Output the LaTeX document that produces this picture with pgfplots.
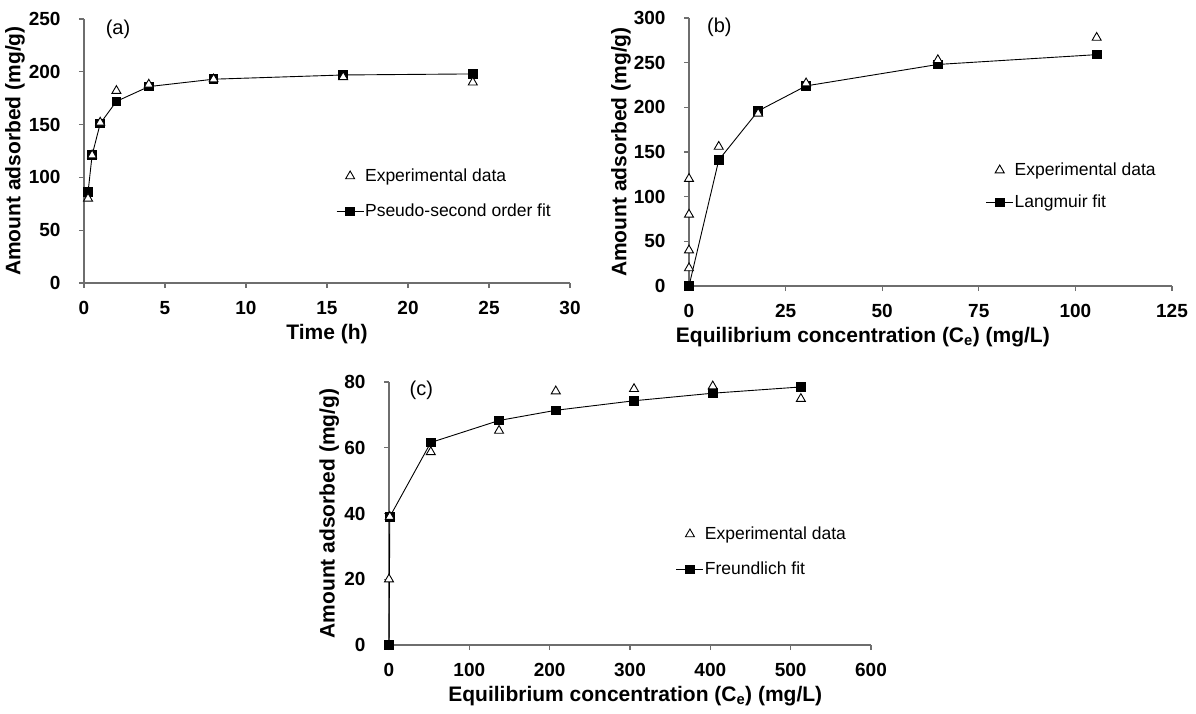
\documentclass[border=0pt]{standalone}
\usepackage{fontspec}
\setmainfont{Liberation Sans}
\usepackage{pgfplots}
\pgfplotsset{compat=1.18}

\definecolor{axgray}{RGB}{110,110,110}

\pgfplotsset{
  panel/.style={
    scale only axis,
    anchor=south west,
    axis lines=left,
    axis line style={-, axgray, line width=1.1pt},
    tick style={axgray, line width=1.1pt},
    tick align=outside,
    major tick length=5pt,
    clip=false,
    /pgf/number format/assume math mode=true,
    tick label style={font=\bfseries\fontsize{19}{19}\selectfont, black},
    xticklabel style={yshift=-10pt},
    yticklabel style={xshift=-15pt},
    label style={font=\bfseries\fontsize{21}{21}\selectfont, black},
    ylabel={Amount adsorbed (mg/g)},
    legend style={draw=none, fill=none, inner sep=0pt, row sep=19pt,
      font=\fontsize{17.5}{17.5}\selectfont, nodes={inner sep=1pt}},
    legend cell align=left,
    reverse legend,
    legend image code/.code={
      \draw[mark repeat=2,mark phase=2,##1] plot coordinates {(0pt,0pt)(13.5pt,0pt)(27pt,0pt)};
    },
  },
  fitline/.style={black, line width=0.9pt, mark=square*, mark size=4.3pt,
    mark options={fill=black, solid}},
  expmark/.style={only marks, mark=triangle*, mark size=5.2pt,
    mark options={fill=white, draw=black, line width=0.9pt}},
}

\begin{document}
\begin{tikzpicture}
\path[use as bounding box] (0pt,0pt) rectangle (1196pt,-713pt);

% (a) kinetics
\begin{axis}[panel,
  at={(84pt,-283pt)},
  width=486pt, height=264pt,
  xmin=0, xmax=30, ymin=0, ymax=250,
  xtick={0,5,...,30}, ytick={0,50,...,250},
  xlabel={Time (h)},
  xlabel style={at={(axis description cs:0.5,-0.195)}, anchor=center},
  ylabel style={at={(axis description cs:-0.142,0.5)}, anchor=center},
  legend style={at={(axis description cs:0.5185,0.436)}, anchor=north west},
]
\addplot[fitline] coordinates {
  (0.25,86) (0.5,121) (1,151) (2,172) (4,186) (8,193) (16,197) (24,198)
};
\addlegendentry{Pseudo-second order fit}
\addplot[expmark] coordinates {
  (0.25,80) (0.5,121) (1,152) (2,182) (4,188) (8,193) (16,195) (24,190)
};
\addlegendentry{Experimental data}
\node[font=\fontsize{20}{20}\selectfont] at (axis description cs:0.07,0.96) {(a)};
\end{axis}

% (b) Langmuir
\begin{axis}[panel,
  at={(689pt,-286pt)},
  width=483pt, height=268pt,
  xmin=0, xmax=125, ymin=0, ymax=300,
  xtick={0,25,...,125}, ytick={0,50,...,300},
  xlabel={Equilibrium concentration (C\textsubscript{e}) (mg/L)},
  xlabel style={at={(axis description cs:0.36,-0.192)}, anchor=center},
  ylabel style={at={(axis description cs:-0.141,0.5)}, anchor=center},
  legend style={at={(axis description cs:0.614,0.463)}, anchor=north west, row sep=16pt},
]
\addplot[fitline] coordinates {
  (0,0) (7.7,141) (17.9,196) (30.3,224) (64.4,248) (105.5,259)
};
\addlegendentry{Langmuir fit}
\addplot[expmark] coordinates {
  (0,20) (0,40) (0,80) (0,120) (7.7,156) (17.9,193) (30.3,227) (64.4,253) (105.5,278)
};
\addlegendentry{Experimental data}
\node[font=\fontsize{20}{20}\selectfont] at (axis description cs:0.063,0.967) {(b)};
\end{axis}

% (c) Freundlich
\begin{axis}[panel,
  at={(389pt,-645pt)},
  width=482pt, height=263pt,
  xmin=0, xmax=600, ymin=0, ymax=80,
  xtick={0,100,...,600}, ytick={0,20,...,80},
  xlabel={Equilibrium concentration (C\textsubscript{e}) (mg/L)},
  xlabel style={at={(axis description cs:0.511,-0.193)}, anchor=center},
  ylabel style={at={(axis description cs:-0.124,0.5)}, anchor=center},
  legend style={at={(axis description cs:0.595,0.453)}, anchor=north west},
]
\addplot[fitline] coordinates {
  (0,0) (1,39) (52,61.6) (137,68.3) (207.6,71.4) (305,74.3) (403,76.6) (512.7,78.5)
};
\addlegendentry{Freundlich fit}
\addplot[expmark] coordinates {
  (0,20) (1,39) (52,58.7) (137,65.2) (207.6,77.2) (305,77.9) (403,78.7) (512.7,74.9)
};
\addlegendentry{Experimental data}
\node[font=\fontsize{20}{20}\selectfont] at (axis description cs:0.067,0.97) {(c)};
\end{axis}
\end{tikzpicture}
\end{document}
